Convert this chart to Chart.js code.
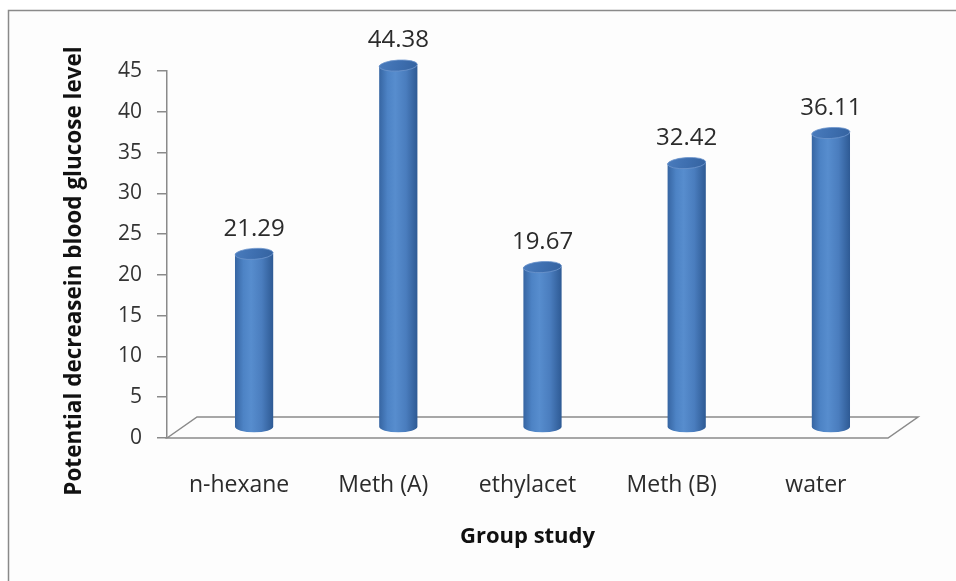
<!DOCTYPE html>
<html>
<head>
<meta charset="utf-8">
<script src="https://cdn.jsdelivr.net/npm/chart.js@4/dist/chart.umd.min.js"></script>
<style>
  html, body { margin: 0; padding: 0; background: #ffffff; }
  canvas { display: block; }
</style>
</head>
<body>
<canvas id="chart" width="956" height="581"></canvas>
<script>
// Groups and their measured decrease in blood glucose
const categories = ['n-hexane', 'Meth (A)', 'ethylacet', 'Meth (B)', 'water'];
const decreaseValues = [21.29, 44.38, 19.67, 32.42, 36.11];
const yAxisMin = 0;
const yAxisMax = 45;
const yAxisStep = 5;
const xAxisTitle = 'Group study';
const yAxisTitle = 'Potential decreasein blood glucose level';

const FONT = '"Open Sans", "Noto Sans", sans-serif';
const GRAY = '#8a8a8a';
const TEXT = '#2b2b2b';
// 3D floor depth (pixels) and the cylinders sit halfway into it
const DEPTH_X = 30, DEPTH_Y = -21;

// Frame, back wall and floor of the pseudo-3D plot
const framePlugin = {
  id: 'frame',
  beforeDraw(chart) {
    const { ctx } = chart;
    ctx.save();
    ctx.fillStyle = '#ffffff';
    ctx.fillRect(0, 0, chart.width, chart.height);
    ctx.fillStyle = '#fdfdfd';
    ctx.fillRect(8, 10, chart.width, chart.height);
    ctx.strokeStyle = GRAY;
    ctx.lineWidth = 1.5;
    ctx.beginPath();
    ctx.moveTo(8.5, chart.height + 2);
    ctx.lineTo(8.5, 10.5);
    ctx.lineTo(chart.width + 2, 10.5);
    ctx.stroke();
    ctx.restore();
  },
  beforeDatasetsDraw(chart) {
    const { ctx, chartArea: a } = chart;
    ctx.save();
    ctx.strokeStyle = GRAY;
    ctx.lineWidth = 1.5;
    ctx.beginPath();
    ctx.moveTo(a.left, a.bottom);
    ctx.lineTo(a.left + DEPTH_X, a.bottom + DEPTH_Y);
    ctx.lineTo(a.right + DEPTH_X, a.bottom + DEPTH_Y);
    ctx.lineTo(a.right, a.bottom);
    ctx.closePath();
    ctx.stroke();
    ctx.restore();
  }
};

// Cylinders with value labels, drawn from the bar elements' geometry
const cylinderPlugin = {
  id: 'cylinders',
  afterDatasetsDraw(chart) {
    const { ctx } = chart;
    const meta = chart.getDatasetMeta(0);
    const dx = DEPTH_X / 2, dy = DEPTH_Y / 2;
    meta.data.forEach((bar, i) => {
      const cx = bar.x + dx;
      const top = bar.y + dy;
      const base = bar.base + dy;
      const rx = bar.width / 2;
      const ry = 5.5;
      ctx.save();
      // body
      const g = ctx.createLinearGradient(cx - rx, 0, cx + rx, 0);
      g.addColorStop(0, '#3665a2');
      g.addColorStop(0.22, '#4d83c5');
      g.addColorStop(0.42, '#578dce');
      g.addColorStop(0.7, '#4a7dbe');
      g.addColorStop(1, '#2e5a94');
      ctx.beginPath();
      ctx.moveTo(cx - rx, top);
      ctx.lineTo(cx - rx, base);
      ctx.ellipse(cx, base, rx, ry, 0, Math.PI, 0, true);
      ctx.lineTo(cx + rx, top);
      ctx.closePath();
      ctx.fillStyle = g;
      ctx.fill();
      // top cap
      const tg = ctx.createLinearGradient(cx - rx, top - ry, cx + rx, top + ry);
      tg.addColorStop(0, '#4a7cbd');
      tg.addColorStop(0.5, '#3e6fb0');
      tg.addColorStop(1, '#34629f');
      ctx.beginPath();
      ctx.ellipse(cx, top, rx, ry, -0.06, 0, Math.PI * 2);
      ctx.fillStyle = tg;
      ctx.fill();
      ctx.strokeStyle = 'rgba(110,150,205,0.8)';
      ctx.lineWidth = 1;
      ctx.stroke();
      // value label
      ctx.fillStyle = TEXT;
      ctx.font = '24px ' + FONT;
      ctx.textAlign = 'center';
      ctx.textBaseline = 'middle';
      ctx.fillText(decreaseValues[i].toFixed(2), cx, top - 25);
      ctx.restore();
    });
  },
  afterDraw(chart) {
    const { ctx } = chart;
    ctx.save();
    ctx.translate(75, 271);
    ctx.rotate(-Math.PI / 2);
    ctx.fillStyle = '#111111';
    ctx.font = 'bold 22.5px ' + FONT;
    ctx.textAlign = 'center';
    ctx.textBaseline = 'middle';
    ctx.fillText(yAxisTitle, 0, 0);
    ctx.restore();
  }
};

new Chart(document.getElementById('chart'), {
  type: 'bar',
  data: {
    labels: categories,
    datasets: [{
      data: decreaseValues,
      backgroundColor: 'rgba(0,0,0,0)',
      borderWidth: 0,
      categoryPercentage: 1,
      barPercentage: 0.265
    }]
  },
  options: {
    responsive: false,
    animation: false,
    events: [],
    layout: { padding: { left: 0, top: 71, right: 68, bottom: 0 } },
    plugins: { legend: { display: false }, tooltip: { enabled: false } },
    scales: {
      x: {
        grid: { display: false, drawTicks: false },
        border: { display: false },
        ticks: { padding: 34, color: TEXT, font: { family: FONT, size: 23 } },
        title: {
          display: true, text: xAxisTitle, color: '#111111',
          font: { family: FONT, size: 22, weight: 'bold' },
          padding: { top: 0, bottom: 31 }
        },
        afterFit(scale) { scale.height = 143; }
      },
      y: {
        min: yAxisMin, max: yAxisMax,
        ticks: { stepSize: yAxisStep, padding: 15, color: '#333333', font: { family: FONT, size: 21 } },
        grid: { drawOnChartArea: false, tickLength: 10, color: GRAY, lineWidth: 1.5 },
        border: { color: GRAY, width: 1.5 },
        afterFit(scale) { scale.width = 167; }
      }
    }
  },
  plugins: [framePlugin, cylinderPlugin]
});
</script>
</body>
</html>
